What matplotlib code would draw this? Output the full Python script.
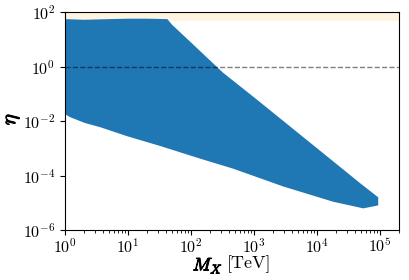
import numpy as np
import matplotlib
matplotlib.use("Agg")
import matplotlib.pyplot as plt
import matplotlib.patheffects as pe

plt.rcParams['font.family'] = 'serif'
plt.rcParams['font.serif'] = ['cmr10']
plt.rcParams['mathtext.fontset'] = 'cm'
plt.rcParams['axes.formatter.use_mathtext'] = True

# upper edge of the allowed region (M_X in TeV, eta)
M_up   = [1, 2, 5, 10, 20, 42, 50, 100, 320, 1e3, 1e4, 5e4, 9.3e4]
eta_up = [55, 52, 55, 57, 57, 55, 34, 7.6, 0.6, 7.4e-2, 1.0e-3, 4.9e-5, 1.6e-5]

# lower edge of the allowed region
M_lo   = [1, 1.2, 2.07, 3.6, 9.6, 32, 139, 465, 2.9e3, 1.8e4, 5.4e4, 9.3e4]
eta_lo = [1.8e-2, 1.4e-2, 8.5e-3, 6.0e-3, 2.8e-3, 1.23e-3, 4.2e-4, 1.8e-4,
          4.0e-5, 1.1e-5, 6.3e-6, 8.1e-6]

# excluded band at the top
band_lo, band_hi = 48, 100

fig = plt.figure(figsize=(4.09, 2.80), dpi=100)
ax = fig.add_axes([0.159, 0.178, 0.817, 0.779])

ax.axhspan(band_lo, band_hi, color='orange', alpha=0.12, lw=0)

# build closed outline from the two edges
xs = np.concatenate([M_up, M_lo[::-1]])
ys = np.concatenate([eta_up, eta_lo[::-1]])
ax.fill(xs, ys, color='C0', lw=0)

ax.axhline(1, color='k', ls='--', alpha=0.5, lw=1)

ax.set_xscale('log')
ax.set_yscale('log')
ax.set_xlim(1, 2e5)
ax.set_ylim(1e-6, 1e2)
ax.set_yticks([1e-6, 1e-4, 1e-2, 1e0, 1e2])
ax.set_xticks([1e0, 1e1, 1e2, 1e3, 1e4, 1e5])
ax.tick_params(labelsize=11.5)
ax.tick_params(axis='x', pad=1.5)

# bold-looking math labels (fake bold via stroke)
bold = [pe.withStroke(linewidth=0.7, foreground='k')]
fig.text(223 / 409, 1 - 266 / 280, r'$M_X$', fontsize=13, ha='right', va='center',
         path_effects=bold)
fig.text(227 / 409, 1 - 264 / 280, '[TeV]', fontsize=13, ha='left', va='center')
fig.text(13 / 409, 1 - 119 / 280, r'$\eta$', fontsize=15, ha='center', va='center',
         rotation=90, path_effects=bold)

plt.savefig('out.png', dpi=100)
